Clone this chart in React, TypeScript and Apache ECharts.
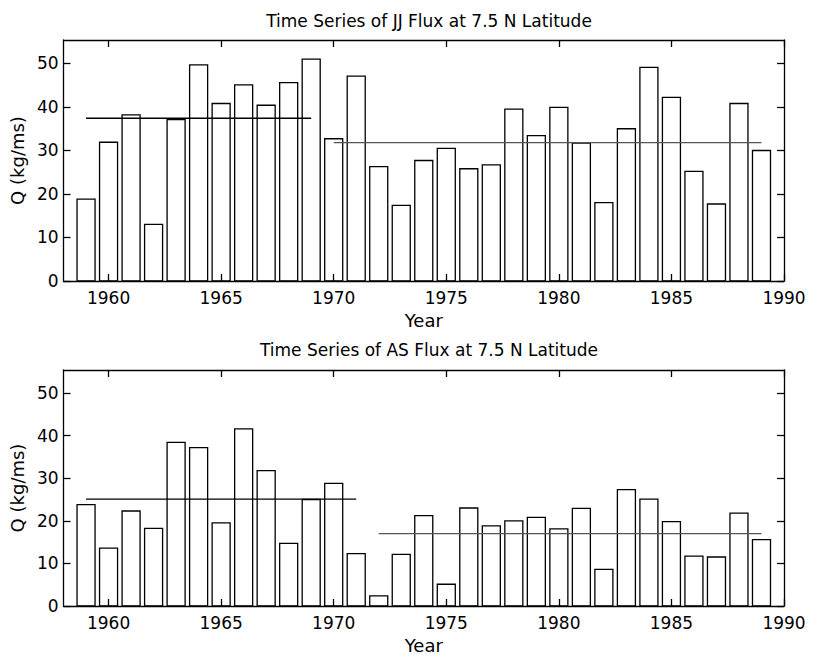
import React, { useEffect, useRef } from "react";
import * as echarts from "echarts";

const years = [1959, 1960, 1961, 1962, 1963, 1964, 1965, 1966, 1967, 1968, 1969, 1970, 1971, 1972, 1973, 1974, 1975, 1976, 1977, 1978, 1979, 1980, 1981, 1982, 1983, 1984, 1985, 1986, 1987, 1988, 1989];
const jjFlux = [18.8, 31.9, 38.2, 13.0, 37.1, 49.7, 40.8, 45.1, 40.4, 45.6, 51.0, 32.7, 47.1, 26.3, 17.4, 27.7, 30.5, 25.8, 26.7, 39.5, 33.4, 39.9, 31.7, 18.0, 35.0, 49.1, 42.2, 25.2, 17.7, 40.8, 30.0];
const asFlux = [23.8, 13.6, 22.3, 18.2, 38.4, 37.2, 19.5, 41.6, 31.8, 14.7, 25.0, 28.8, 12.3, 2.4, 12.1, 21.2, 5.1, 23.0, 18.8, 20.0, 20.8, 18.1, 22.9, 8.6, 27.3, 25.1, 19.8, 11.7, 11.5, 21.8, 15.6];

const jjMeanStart = [1959, 1970];
const jjMeanEnd = [1969, 1989];
const jjMeanValue = [37.4, 31.8];
const asMeanStart = [1959, 1972];
const asMeanEnd = [1971, 1989];
const asMeanValue = [25.1, 17.0];

const xTicks = [1960, 1965, 1970, 1975, 1980, 1985, 1990];
const yTicks = [0, 10, 20, 30, 40, 50];
const titles = ["Time Series of JJ Flux at 7.5 N Latitude", "Time Series of AS Flux at 7.5 N Latitude"];

const FONT = "DejaVu Sans";

export default function App() {
  const ref = useRef<HTMLDivElement>(null);
  useEffect(() => {
    if (!ref.current) return;
    const chart = echarts.init(ref.current, null, { renderer: "svg" });

    const grids = [
      { left: 57, top: 40, width: 727, height: 241 },
      { left: 57, top: 370, width: 727, height: 242 },
    ];

    const xAxes: any[] = [];
    const yAxes: any[] = [];
    [0, 1].forEach((g) => {
      const common = {
        type: "value",
        gridIndex: g,
        min: 1958,
        max: 1990,
        axisLine: { show: true, onZero: false, lineStyle: { color: "#000", width: 1.3 } },
        axisTick: { show: true, inside: true, length: 7, customValues: xTicks, lineStyle: { color: "#000", width: 1.3 } },
        splitLine: { show: false },
      };
      xAxes.push({
        ...common,
        position: "bottom",
        name: "Year",
        nameLocation: "middle",
        nameGap: 30,
        nameTextStyle: { color: "#000", fontFamily: FONT, fontSize: 18 },
        axisLabel: { show: true, customValues: xTicks, color: "#000", fontFamily: FONT, fontSize: 17, margin: 8, formatter: (v: number) => String(v) },
      });
      xAxes.push({ ...common, position: "top", axisLabel: { show: false } });

      const ycommon = {
        type: "value",
        gridIndex: g,
        min: 0,
        max: 55.4,
        axisLine: { show: true, onZero: false, lineStyle: { color: "#000", width: 1.3 } },
        axisTick: { show: true, inside: true, length: 7, customValues: yTicks, lineStyle: { color: "#000", width: 1.3 } },
        splitLine: { show: false },
      };
      yAxes.push({
        ...ycommon,
        position: "left",
        name: "Q (kg/ms)",
        nameLocation: "middle",
        nameGap: 37,
        nameTextStyle: { color: "#000", fontFamily: FONT, fontSize: 18 },
        axisLabel: { show: true, customValues: yTicks, color: "#000", fontFamily: FONT, fontSize: 17, margin: 5 },
      });
      yAxes.push({ ...ycommon, position: "right", axisLabel: { show: false } });
    });

    const barSeries = (data: number[], g: number) => ({
      type: "custom",
      xAxisIndex: g * 2,
      yAxisIndex: g * 2,
      data: years.map((y, i) => [y, data[i]]),
      renderItem: (params: any, api: any) => {
        const x = api.value(0);
        const v = api.value(1);
        const p0 = api.coord([x - 0.4, v]);
        const p1 = api.coord([x + 0.4, 0]);
        return {
          type: "rect",
          shape: { x: p0[0], y: p0[1], width: p1[0] - p0[0], height: p1[1] - p0[1] },
          style: { fill: "none", stroke: "#000", lineWidth: 1.3 },
        };
      },
      z: 2,
    });

    const meanSeries = (starts: number[], ends: number[], vals: number[], g: number) =>
      starts.map((s, i) => ({
        type: "line",
        xAxisIndex: g * 2,
        yAxisIndex: g * 2,
        symbol: "none",
        data: [
          [s, vals[i]],
          [ends[i], vals[i]],
        ],
        lineStyle: { color: i === 0 ? "#000" : "#555", width: i === 0 ? 1.4 : 1.1 },
        z: 3,
      }));

    chart.setOption({
      animation: false,
      backgroundColor: "#fff",
      title: [
        { text: titles[0], left: 424, top: 7, textAlign: "center", textStyle: { color: "#000", fontFamily: FONT, fontSize: 17, fontWeight: "normal" } },
        { text: titles[1], left: 424, top: 336, textAlign: "center", textStyle: { color: "#000", fontFamily: FONT, fontSize: 17, fontWeight: "normal" } },
      ],
      grid: grids,
      xAxis: xAxes,
      yAxis: yAxes,
      series: [
        barSeries(jjFlux, 0),
        barSeries(asFlux, 1),
        ...meanSeries(jjMeanStart, jjMeanEnd, jjMeanValue, 0),
        ...meanSeries(asMeanStart, asMeanEnd, asMeanValue, 1),
      ],
    });
    return () => chart.dispose();
  }, []);
  return <div ref={ref} style={{ position: "absolute", left: 0, top: 0, width: 813, height: 655 }} />;
}
